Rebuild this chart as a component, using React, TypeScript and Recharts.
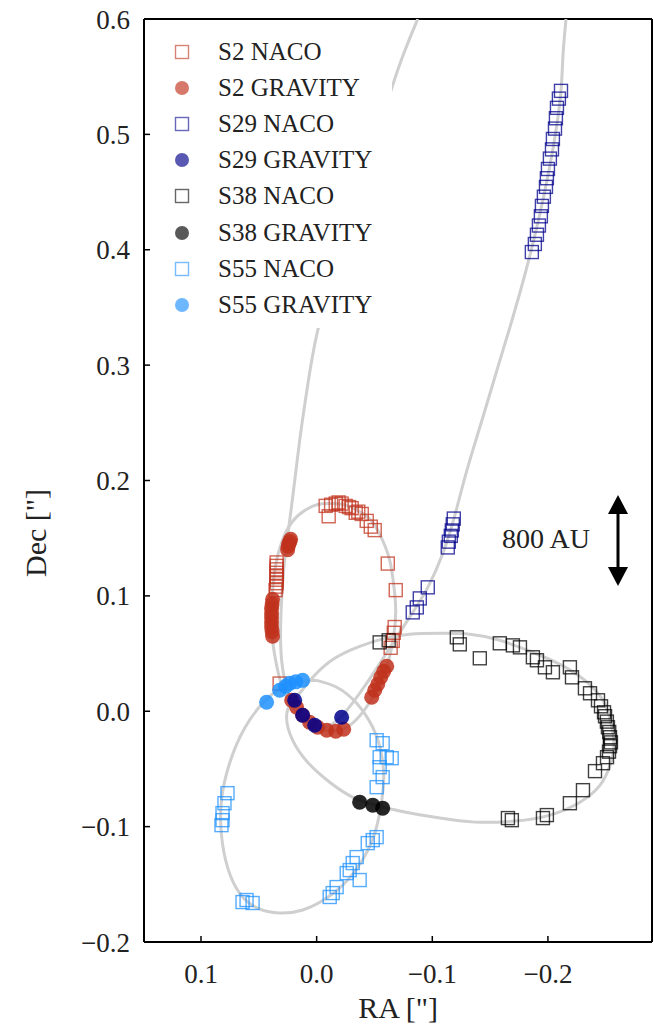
import { ScatterChart, Scatter, XAxis, YAxis, ReferenceLine, Customized } from "recharts";

type Pt = [number, number];

// RA / Dec ["]
const s2Naco: Pt[] = [
  [-0.0078, 0.178], [-0.0104, 0.169], [-0.0125, 0.179], [-0.0165, 0.18], [-0.019, 0.181], [-0.0216, 0.18],
  [-0.0251, 0.178], [-0.028, 0.177], [-0.0303, 0.176], [-0.0338, 0.172], [-0.036, 0.173], [-0.039, 0.171],
  [-0.0433, 0.165], [-0.0468, 0.16], [-0.0502, 0.157], [-0.0615, 0.128], [-0.0684, 0.105],
  [-0.0675, 0.073], [-0.0667, 0.068], [-0.0658, 0.061], [-0.064, 0.055], [0.032, 0.024],
  [0.0346, 0.129], [0.0346, 0.126], [0.0346, 0.123], [0.0346, 0.12], [0.0346, 0.117],
  [0.0346, 0.114], [0.0346, 0.111], [0.035, 0.108], [0.0355, 0.105],
];
const s2Gravity: Pt[] = [
  [0.0225, 0.149], [0.0232, 0.147], [0.0242, 0.145], [0.0246, 0.143], [0.0251, 0.14],
  [0.0381, 0.097], [0.0385, 0.093], [0.039, 0.089], [0.039, 0.085], [0.039, 0.081], [0.039, 0.077],
  [0.039, 0.073], [0.0385, 0.069], [0.0381, 0.065],
  [0.0216, 0.0095], [0.0173, 0.0035], [0.0121, -0.0035], [0.0061, -0.0095], [-0.0009, -0.0139],
  [-0.0087, -0.0165], [-0.0165, -0.0173], [-0.0234, -0.0156],
  [-0.0476, 0.0121], [-0.0502, 0.0182], [-0.0528, 0.0234], [-0.0554, 0.0294], [-0.058, 0.0346], [-0.0606, 0.039],
];
const s29Naco: Pt[] = [
  [-0.0831, 0.0857], [-0.0866, 0.09], [-0.0892, 0.0978], [-0.0961, 0.1074],
  [-0.1134, 0.142], [-0.1143, 0.147], [-0.116, 0.152], [-0.1169, 0.1567], [-0.1177, 0.162], [-0.1186, 0.167],
  [-0.2113, 0.5377], [-0.2095, 0.531], [-0.2078, 0.523], [-0.2069, 0.514], [-0.2061, 0.505],
  [-0.2043, 0.496], [-0.2035, 0.487], [-0.2017, 0.479], [-0.2, 0.47], [-0.1991, 0.462],
  [-0.1983, 0.4545], [-0.1965, 0.446], [-0.1948, 0.438], [-0.1939, 0.429], [-0.1922, 0.421],
  [-0.1905, 0.413], [-0.1887, 0.405], [-0.1861, 0.398],
];
const s29Gravity: Pt[] = [[0.019, 0.0095], [0.0121, -0.0035], [0.0017, -0.0121], [-0.0216, -0.0052]];
const s38Naco: Pt[] = [
  [-0.0545, 0.0597], [-0.0623, 0.0615], [-0.1212, 0.0641], [-0.1238, 0.058], [-0.1411, 0.0459],
  [-0.1584, 0.0589], [-0.1697, 0.0571], [-0.1758, 0.0554], [-0.187, 0.0468], [-0.1905, 0.0442],
  [-0.1974, 0.0381], [-0.2043, 0.0338], [-0.219, 0.0381], [-0.2208, 0.0294], [-0.232, 0.0199],
  [-0.2364, 0.0156], [-0.2433, 0.0095], [-0.2459, 0.0043], [-0.2485, -0.0009], [-0.2494, -0.0043],
  [-0.251, -0.009], [-0.2519, -0.0139], [-0.253, -0.018], [-0.2537, -0.0225], [-0.2545, -0.027],
  [-0.2537, -0.0303], [-0.2528, -0.035], [-0.2511, -0.0398], [-0.2476, -0.045], [-0.2407, -0.0519],
  [-0.2303, -0.0684], [-0.219, -0.0797], [-0.1991, -0.09], [-0.1957, -0.0926], [-0.1654, -0.0926],
  [-0.1688, -0.0944],
];
const s38Gravity: Pt[] = [[-0.0372, -0.0788], [-0.0485, -0.0814], [-0.0571, -0.084]];
const s55Naco: Pt[] = [
  [-0.0519, -0.0251], [-0.0571, -0.0277], [-0.0606, -0.0398], [-0.0545, -0.0398], [-0.0649, -0.0407],
  [-0.0545, -0.0485], [-0.0571, -0.0571], [-0.0519, -0.0658], [-0.0485, -0.1117], [-0.0519, -0.1091],
  [-0.0442, -0.1143], [-0.0346, -0.1264], [-0.0312, -0.1316], [-0.0286, -0.1377], [-0.0372, -0.1463],
  [-0.026, -0.1403], [-0.0173, -0.1524], [-0.0139, -0.1576], [-0.0113, -0.161],
  [0.0606, -0.1636], [0.0554, -0.1662], [0.0641, -0.1654],
  [0.0771, -0.071], [0.0797, -0.0797], [0.0814, -0.0883], [0.0814, -0.0944], [0.0823, -0.0987],
];
const s55Gravity: Pt[] = [[0.0433, 0.0078], [0.032, 0.0182], [0.0268, 0.0216], [0.0234, 0.0242], [0.018, 0.0255], [0.0121, 0.0268]];

// orbit tracks
const s2Orbit: Pt[] = [
  [-0.0113, 0.18], [-0.0242, 0.179], [-0.0372, 0.173], [-0.0485, 0.1636], [-0.0571, 0.148],
  [-0.0632, 0.1307], [-0.0667, 0.109], [-0.0684, 0.0874], [-0.0667, 0.0658], [-0.0623, 0.0442],
  [-0.0554, 0.0251], [-0.0459, 0.0078], [-0.0338, -0.0078], [-0.0199, -0.0165], [-0.0043, -0.0156],
  [0.0104, -0.0078], [0.0216, 0.0052], [0.0294, 0.0199], [0.0346, 0.0398], [0.0381, 0.0615],
  [0.039, 0.0831], [0.0381, 0.1048], [0.0355, 0.1264], [0.0303, 0.1463], [0.0216, 0.1636],
  [0.0104, 0.174], [-0.0009, 0.1792], [-0.0113, 0.18],
];
const s29Orbit: Pt[] = [
  [-0.2156, 0.6], [-0.213, 0.568], [-0.2113, 0.5377], [-0.2069, 0.503], [-0.2, 0.464],
  [-0.1913, 0.4234], [-0.181, 0.382], [-0.1688, 0.3385], [-0.1558, 0.2952], [-0.1429, 0.252],
  [-0.1299, 0.2087], [-0.1195, 0.1697], [-0.1091, 0.1368], [-0.0961, 0.1074], [-0.0831, 0.0857],
  [-0.0675, 0.0615], [-0.0519, 0.0372], [-0.0372, 0.0156], [-0.0216, -0.0043], [-0.0095, -0.013],
  [0.0017, -0.0139], [0.0121, -0.0061], [0.0208, 0.0069], [0.0268, 0.0234], [0.0303, 0.0442],
  [0.0312, 0.0701], [0.0303, 0.0961], [0.0277, 0.1307], [0.0216, 0.1784], [0.0147, 0.2346],
  [0.0078, 0.2823], [-0.0009, 0.3299], [-0.0156, 0.3818], [-0.0303, 0.4294], [-0.0459, 0.477],
  [-0.0615, 0.529], [-0.0745, 0.568], [-0.0874, 0.6],
];
const s38Orbit: Pt[] = [
  [0.0147, 0.0156], [0.0017, 0.0312], [-0.0156, 0.0459], [-0.0372, 0.0563], [-0.0589, 0.0632],
  [-0.0805, 0.0667], [-0.1065, 0.0675], [-0.1325, 0.0667], [-0.1584, 0.0615], [-0.1844, 0.052],
  [-0.2104, 0.0407], [-0.232, 0.0268], [-0.2476, 0.0095], [-0.2545, -0.0104], [-0.2571, -0.0294],
  [-0.2537, -0.0468], [-0.2451, -0.0641], [-0.2277, -0.0788], [-0.2017, -0.09], [-0.1714, -0.0952],
  [-0.1368, -0.0961], [-0.1065, -0.0926], [-0.0762, -0.0874], [-0.0545, -0.0823], [-0.0329, -0.0753],
  [-0.0113, -0.0615], [0.0078, -0.0442], [0.0208, -0.0251], [0.026, -0.0061], [0.0225, 0.0069],
  [0.0147, 0.0156],
];
const s55Orbit: Pt[] = [
  [0.0, 0.0268], [-0.0173, 0.0208], [-0.0346, 0.0069], [-0.0485, -0.0139], [-0.0554, -0.0338],
  [-0.058, -0.0554], [-0.0563, -0.0771], [-0.0511, -0.103], [-0.0416, -0.1255], [-0.0268, -0.1463],
  [-0.0087, -0.1619], [0.0121, -0.1723], [0.032, -0.1749], [0.0511, -0.1706], [0.0667, -0.1576],
  [0.0771, -0.1351], [0.0823, -0.1074], [0.0823, -0.0771], [0.0753, -0.045], [0.0623, -0.0147],
  [0.0468, 0.0069], [0.0338, 0.0182], [0.0182, 0.0251], [0.0, 0.0268],
];

const xTicks = [0.1, 0, -0.1, -0.2];
const yTicks = [-0.2, -0.1, 0, 0.1, 0.2, 0.3, 0.4, 0.5, 0.6];

const S2 = "#c0311c";
const S29 = "#00008b";
const S38 = "#000000";
const S55 = "#1e90ff";
const ORBIT = "#cfcfcf";
const FONT = "'Liberation Serif', 'DejaVu Serif', serif";

const toXY = (pts: Pt[]) => pts.map(([x, y]) => ({ x, y }));
const fmt = (v: number) => (v < 0 ? "\u2212" : "") + Math.abs(v).toFixed(1);

const square = (color: string) => (p: any) => (
  <rect x={p.cx - 6.5} y={p.cy - 6.5} width={13} height={13} fill="none"
    stroke={color} strokeOpacity={0.75} strokeWidth={1.4} />
);
const dot = (color: string) => (p: any) => (
  <circle cx={p.cx} cy={p.cy} r={7.5} fill={color} fillOpacity={0.85} />
);
const noShape = () => <g />;

const orbits = [s2Orbit, s29Orbit, s38Orbit, s55Orbit];

const series = [
  { name: "S2 NACO", data: s2Naco, color: S2, kind: "naco" },
  { name: "S2 GRAVITY", data: s2Gravity, color: S2, kind: "grav" },
  { name: "S29 NACO", data: s29Naco, color: S29, kind: "naco" },
  { name: "S29 GRAVITY", data: s29Gravity, color: S29, kind: "grav" },
  { name: "S38 NACO", data: s38Naco, color: S38, kind: "naco" },
  { name: "S38 GRAVITY", data: s38Gravity, color: S38, kind: "grav" },
  { name: "S55 NACO", data: s55Naco, color: S55, kind: "naco" },
  { name: "S55 GRAVITY", data: s55Gravity, color: S55, kind: "grav" },
];

function Annotations() {
  return (
    <g fontFamily={FONT} fill="#222">
      <text x={398} y={1018} fontSize={30} textAnchor="middle">RA ["]</text>
      <text x={35} y={533} fontSize={30} textAnchor="middle" dominantBaseline="central"
        transform="rotate(-90 35 533)">Dec ["]</text>
      <text x={502} y={548} fontSize={28}>800 AU</text>
      <line x1={618} y1={508} x2={618} y2={573} stroke="#000" strokeWidth={3} />
      <polygon points="618,495 608,514 628,514" fill="#000" />
      <polygon points="618,586 608,567 628,567" fill="#000" />
    </g>
  );
}

function LegendBox() {
  return (
    <div style={{
      position: "absolute", left: 150, top: 26, width: 242, height: 302,
      background: "#fff", fontFamily: FONT, fontSize: 25, color: "#222",
    }}>
      {series.map((s, i) => (
        <div key={s.name} style={{ position: "absolute", left: 0, top: 26 + i * 36.1 - 18, height: 36, display: "flex", alignItems: "center" }}>
          <svg width={64} height={36} style={{ display: "block" }}>
            {s.kind === "naco"
              ? <rect x={25.5} y={11.5} width={13} height={13} fill="none" stroke={s.color} strokeOpacity={0.6} strokeWidth={1.4} />
              : <circle cx={32} cy={18} r={7} fill={s.color} fillOpacity={0.65} />}
          </svg>
          <span style={{ marginLeft: 4, lineHeight: "36px", whiteSpace: "nowrap" }}>{s.name}</span>
        </div>
      ))}
    </div>
  );
}

export default function App() {
  return (
    <div style={{ position: "absolute", left: 0, top: 0, width: 654, height: 1030, background: "#fff" }}>
      <ScatterChart width={654} height={1030} margin={{ top: 19, right: 2, bottom: 0, left: 0 }}>
        <XAxis type="number" dataKey="x" domain={[-0.29, 0.1493]} reversed allowDataOverflow
          ticks={xTicks} tickFormatter={fmt} height={88} tickSize={-6} tickMargin={28}
          axisLine={{ stroke: "#000", strokeWidth: 2 }} tickLine={{ stroke: "#000", strokeWidth: 1.5 }}
          tick={{ fontSize: 27, fontFamily: FONT, fill: "#222" }} />
        <YAxis type="number" dataKey="y" domain={[-0.2, 0.6]} allowDataOverflow
          ticks={yTicks} tickFormatter={fmt} width={144} tickSize={-6} tickMargin={20}
          axisLine={{ stroke: "#000", strokeWidth: 2 }} tickLine={{ stroke: "#000", strokeWidth: 1.5 }}
          tick={{ fontSize: 27, fontFamily: FONT, fill: "#222" }} />
        <ReferenceLine y={0.6} stroke="#000" strokeWidth={2} />
        <ReferenceLine x={-0.29} stroke="#000" strokeWidth={2} />
        {orbits.map((o, i) => (
          <Scatter key={"orbit" + i} data={toXY(o)} shape={noShape} legendType="none"
            line={{ stroke: ORBIT, strokeWidth: 3 }} lineJointType="natural" isAnimationActive={false} />
        ))}
        {series.map((s) => (
          <Scatter key={s.name} name={s.name} data={toXY(s.data)}
            shape={s.kind === "naco" ? square(s.color) : dot(s.color)} isAnimationActive={false} />
        ))}
        <Customized component={Annotations} />
      </ScatterChart>
      <LegendBox />
    </div>
  );
}
